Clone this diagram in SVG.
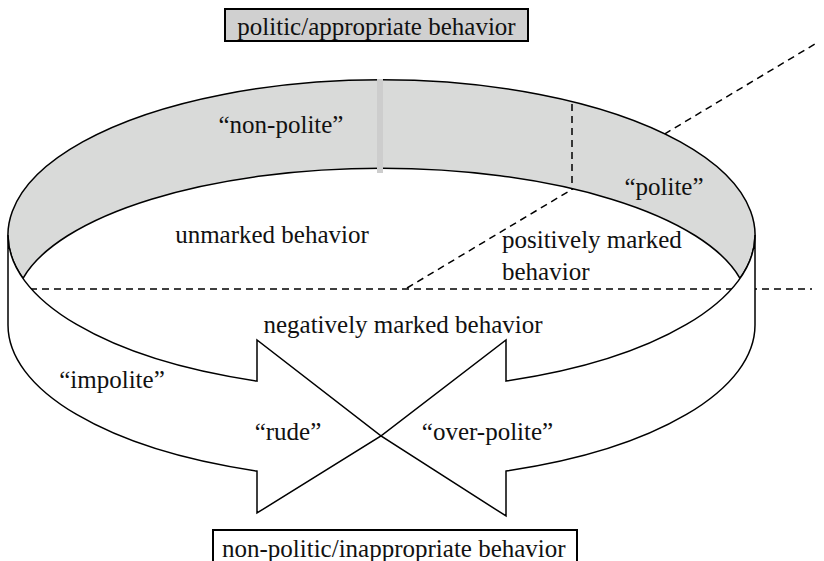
<svg xmlns="http://www.w3.org/2000/svg" width="824" height="561" viewBox="0 0 824 561">
<style>
.ln{fill:none;stroke:#000;stroke-width:1.5}
.dash{fill:none;stroke:#000;stroke-width:1.5;stroke-dasharray:7 5}
.band{fill:#d9dad9;stroke:#000;stroke-width:1.5}
.arrow{fill:#fff;stroke:#000;stroke-width:1.5;stroke-linejoin:miter}
.t{font-family:"Liberation Serif","Times New Roman",serif;font-size:25px;fill:#111}
.box{stroke:#000;stroke-width:2}
</style>
<rect width="824" height="561" fill="#fff"/>
<g id="connectors">
<path class="dash" d="M30,289 H812"/>
<path class="dash" d="M407,288 L815,44"/>
</g>
<g id="ring">
<path class="band" d="M23,278.3 A373.5 155 0 1 1 740,278.3 A367 140 0 0 0 23,278.3 Z"/>
<rect x="377" y="79" width="6" height="94" fill="#cdcdcd"/>
<path class="dash" d="M572,104 V190"/>
</g>
<g id="arrow-left">
<path class="arrow" d="M8,235 L8,325 A373.5 155 0 0 0 257,471.1 L257,513 L381,436 L257,340 L257,381.1 A373.5 155 0 0 1 8,235 Z"/>
</g>
<g id="arrow-right">
<path class="arrow" d="M755,235 L755,325 A373.5 155 0 0 1 506,471.1 L506,516 L381,436 L506,340 L506,381.1 A373.5 155 0 0 0 755,235 Z"/>
</g>
<g id="top-label">
<rect class="box" x="225" y="9" width="303" height="32" fill="#d0d0d0"/>
<text class="t" x="376.5" y="35" text-anchor="middle">politic/appropriate behavior</text>
</g>
<g id="bottom-label">
<rect class="box" x="213" y="530" width="364" height="45" fill="#fff"/>
<text class="t" x="222" y="557">non-politic/inappropriate behavior</text>
</g>
<g id="labels">
<text class="t" x="281" y="133" text-anchor="middle">“non-polite”</text>
<text class="t" x="272" y="243" text-anchor="middle">unmarked behavior</text>
<text class="t" x="664" y="195" text-anchor="middle">“polite”</text>
<text class="t" x="502" y="248">positively marked</text>
<text class="t" x="502" y="280">behavior</text>
<text class="t" x="403" y="333" text-anchor="middle">negatively marked behavior</text>
<text class="t" x="112" y="388" text-anchor="middle">“impolite”</text>
<text class="t" x="288" y="440" text-anchor="middle">“rude”</text>
<text class="t" x="487.5" y="440" text-anchor="middle">“over-polite”</text>
</g>
</svg>
